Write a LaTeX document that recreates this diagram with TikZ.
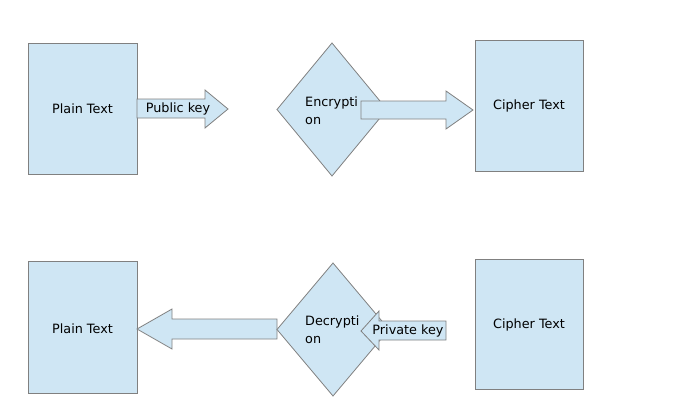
\documentclass[tikz,border=0pt]{standalone}
\usepackage{fontspec}
\setmainfont{DejaVu Sans}
\usepackage{tikz}
\definecolor{boxfill}{HTML}{CFE6F4}
\definecolor{boxline}{HTML}{808080}
\begin{document}
\begin{tikzpicture}[x=1pt, y=-1pt, every node/.style={font=\fontsize{12.8}{18}\selectfont, inner sep=0pt},
	shape box/.style={fill=boxfill, draw=boxline, line width=0.8pt}]
	\useasboundingbox (0,0) rectangle (690,396);
	% top row
	\path[shape box] (28,43) rectangle (137,174);
	\node (plainA) at (82.5,109) {Plain Text};
	\path[shape box] (137,99) -- (205,99) -- (205,90) -- (228,109) -- (205,128) -- (205,118) -- (137,118) -- cycle;
	\node (pubkey) at (178,109) {Public key};
	\path[shape box] (332,43) -- (387,109.5) -- (332,176) -- (277,109.5) -- cycle;
	\node[anchor=west, align=left] (encr) at (305,111) {Encrypti\\on};
	\path[shape box] (361,101) -- (446,101) -- (446,91) -- (473,110) -- (446,129) -- (446,119) -- (361,119) -- cycle;
	\path[shape box] (475,40) rectangle (583,171);
	\node (cipherA) at (529,106) {Cipher Text};
	% bottom row
	\path[shape box] (28,261) rectangle (137,393);
	\node (plainB) at (82.5,329) {Plain Text};
	\path[shape box] (277,319) -- (172,319) -- (172,309) -- (137,329) -- (172,349) -- (172,339) -- (277,339) -- cycle;
	\path[shape box] (333,263) -- (389,329.5) -- (333,396) -- (277,329.5) -- cycle;
	\node[anchor=west, align=left] (decr) at (305,330) {Decrypti\\on};
	\path[shape box] (446,321) -- (379,321) -- (379,311) -- (361,331) -- (379,350) -- (379,340) -- (446,340) -- cycle;
	\node (privkey) at (408,331) {Private key};
	\path[shape box] (475,259) rectangle (583,389);
	\node (cipherB) at (529,325) {Cipher Text};
\end{tikzpicture}
\end{document}
